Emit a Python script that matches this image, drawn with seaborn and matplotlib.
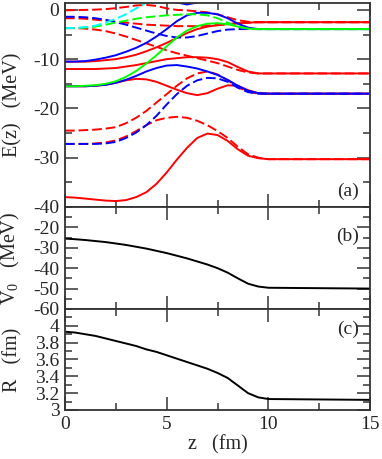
import matplotlib
matplotlib.use('Agg')
import matplotlib.pyplot as plt
import seaborn as sns
from matplotlib.ticker import MultipleLocator, FixedLocator, FixedFormatter

# z grid (fm) shared by all curves
z = [0, 0.5, 1, 1.5, 2, 2.5, 3, 3.5, 4, 4.5, 5, 5.5, 6, 6.5, 7, 7.5, 8, 8.5, 9, 9.5, 10, 15]
z_cyan = [0, 0.5, 1, 1.5, 2, 2.5, 3, 3.5, 4, 4.5, 5]
z_top = [5.0, 5.5, 6.0, 6.5, 7.0]

# panel (a): single particle levels E(z) in MeV
red_solid_1 = [-38.0, -38.1, -38.3, -38.5, -38.7, -38.8, -38.6, -38.0, -37.0, -35.3, -33.0, -30.4,
               -28.0, -26.0, -25.1, -25.4, -26.6, -28.3, -29.6, -30.1, -30.3, -30.3]
red_solid_2 = [-15.5, -15.5, -15.5, -15.4, -15.2, -14.8, -14.3, -14.0, -14.1, -14.6, -15.4, -16.2,
               -16.9, -17.3, -16.9, -16.0, -15.3, -15.4, -16.3, -16.9, -17.0, -17.0]
red_solid_3 = [-12.0, -12.0, -12.0, -12.0, -11.9, -11.8, -11.5, -11.2, -10.8, -10.4, -10.0, -9.8,
               -9.6, -9.6, -9.7, -10.0, -10.6, -11.6, -12.5, -12.9, -12.9, -12.9]
red_solid_4 = [-10.5, -10.5, -10.5, -10.4, -10.2, -10.0, -9.6, -9.1, -8.4, -7.6, -6.7, -5.7,
               -4.7, -3.9, -3.4, -3.1, -2.9, -2.7, -2.6, -2.5, -2.5, -2.5]
red_dash_1 = [-27.2, -27.2, -27.2, -27.1, -26.9, -26.5, -25.7, -24.6, -23.4, -22.4, -21.9, -21.7,
              -21.9, -22.5, -23.4, -24.6, -26.0, -27.8, -29.3, -30.0, -30.3, -30.3]
red_dash_2 = [-24.5, -24.5, -24.4, -24.3, -24.1, -23.8, -23.0, -21.9, -20.5, -18.8, -17.1, -15.4,
              -13.9, -12.9, -12.5, -13.1, -14.3, -15.7, -16.6, -17.0, -17.0, -17.0]
red_dash_3 = [-3.7, -3.7, -3.8, -4.0, -4.3, -4.8, -5.4, -6.1, -6.8, -7.5, -8.2, -8.8,
              -9.3, -9.8, -10.3, -10.8, -11.5, -12.2, -12.7, -12.9, -12.9, -12.9]
red_dash_4 = [-1.7, -1.7, -1.8, -2.0, -2.2, -2.4, -2.6, -2.8, -3.0, -3.1, -3.2, -3.3,
              -3.3, -3.3, -3.2, -3.1, -2.9, -2.7, -2.6, -2.5, -2.5, -2.5]
red_dash_5 = [-0.1, -0.05, 0.0, 0.05, 0.15, 0.35, 0.6, 0.9, 1.0, 0.8, 0.3, 0.0,
              -0.1, -0.3, -0.5, -0.9, -1.5, -2.1, -2.4, -2.5, -2.5, -2.5]
blue_dash_1 = [-27.2, -27.2, -27.2, -27.2, -27.1, -26.8, -26.0, -24.9, -23.4, -21.5, -19.2, -17.1,
               -15.4, -14.3, -13.8, -13.9, -14.6, -15.8, -16.7, -17.0, -17.0, -17.0]
blue_dash_2 = [-1.4, -1.4, -1.5, -1.7, -2.0, -2.5, -3.0, -3.6, -4.2, -4.8, -5.3, -5.6,
               -5.6, -5.3, -4.8, -4.3, -4.0, -3.9, -3.9, -3.9, -3.9, -3.9]
blue_solid_1 = [-15.5, -15.5, -15.5, -15.4, -15.2, -14.8, -14.2, -13.4, -12.5, -11.8, -11.3, -11.2,
                -11.5, -11.9, -12.5, -13.2, -14.2, -15.4, -16.4, -16.9, -17.0, -17.0]
blue_solid_2 = [-10.5, -10.5, -10.4, -10.1, -9.7, -9.2, -8.5, -7.7, -6.7, -5.4, -3.9, -2.3,
                -1.1, -0.6, -0.6, -0.9, -1.7, -2.8, -3.6, -3.9, -3.9, -3.9]
blue_solid_3 = [2.5, 1.5, 1.1, 1.5, 2.5]
green_dash = [-3.7, -3.7, -3.6, -3.4, -3.0, -2.6, -2.2, -1.8, -1.5, -1.3, -1.1, -1.0,
              -0.9, -0.9, -1.1, -1.7, -2.6, -3.4, -3.8, -3.9, -3.9, -3.9]
green_solid = [-15.5, -15.5, -15.4, -15.3, -15.0, -14.5, -13.6, -12.4, -10.9, -9.2, -7.4, -5.6,
               -4.2, -3.3, -2.8, -2.7, -2.9, -3.4, -3.8, -3.9, -3.9, -3.9]
cyan_dash = [-3.7, -3.7, -3.5, -3.2, -2.6, -1.8, -0.9, 0.3, 1.5, 3.0, 4.5]

# panel (b): potential depth V0 (MeV)
v0 = [-25.5, -25.8, -26.2, -26.7, -27.2, -27.9, -28.6, -29.5, -30.4, -31.5, -32.6, -33.9,
      -35.2, -36.7, -38.2, -40.0, -42.2, -45.0, -47.6, -49.0, -49.6, -50.0]

# panel (c): radius R (fm)
radius = [3.93, 3.92, 3.90, 3.88, 3.85, 3.82, 3.79, 3.76, 3.72, 3.69, 3.65, 3.61,
          3.57, 3.53, 3.49, 3.44, 3.38, 3.29, 3.20, 3.15, 3.13, 3.12]

RED, BLUE, GREEN, CYAN = '#ff0000', '#0000ff', '#00ff00', '#00ffff'
DASH = (0, (5, 2))

# (z, values, colour, dashed) in drawing order
levels = [
    (z, red_solid_1, RED, False), (z, red_solid_2, RED, False), (z, red_solid_3, RED, False),
    (z, red_solid_4, RED, False),
    (z, red_dash_1, RED, True), (z, red_dash_2, RED, True), (z, red_dash_3, RED, True),
    (z, red_dash_4, RED, True), (z, red_dash_5, RED, True),
    (z, blue_dash_1, BLUE, True), (z, blue_dash_2, BLUE, True),
    (z, blue_solid_1, BLUE, False), (z, blue_solid_2, BLUE, False),
    (z_top, blue_solid_3, BLUE, False),
    (z, green_dash, GREEN, True), (z, green_solid, GREEN, False),
    (z_cyan, cyan_dash, CYAN, True),
]

sns.set_style('ticks')
plt.rcParams['font.family'] = ['Liberation Serif', 'DejaVu Serif']
plt.rcParams['axes.unicode_minus'] = False
plt.rcParams['mathtext.fontset'] = 'custom'
plt.rcParams['mathtext.rm'] = 'Liberation Serif'

FS = 14
LFS = 14.5
fig, axes = plt.subplots(3, 1, figsize=(3.82, 4.59), dpi=100, sharex=True,
                         gridspec_kw={'height_ratios': [204, 102, 101], 'hspace': 0})
fig.subplots_adjust(left=0.170, right=0.969, top=0.9935, bottom=0.1068)
ax1, ax2, ax3 = axes

for zz, vals, col, dashed in levels:
    sns.lineplot(x=zz, y=vals, ax=ax1, color=col, lw=1.4, estimator=None, sort=False,
                 linestyle=DASH if dashed else '-')

sns.lineplot(x=z, y=v0, ax=ax2, color='black', lw=1.4, estimator=None, sort=False)
sns.lineplot(x=z, y=radius, ax=ax3, color='black', lw=1.4, estimator=None, sort=False)

ax1.set_ylim(-40, 1.4)
ax1.yaxis.set_major_locator(FixedLocator([-40, -30, -20, -10, 0]))
ax1.yaxis.set_minor_locator(MultipleLocator(5))

ax2.set_ylim(-60, -10)
ax2.yaxis.set_major_locator(FixedLocator([-60, -50, -40, -30, -20]))
ax2.yaxis.set_minor_locator(MultipleLocator(5))

ax3.set_ylim(3, 4.2)
r_ticks = [3, 3.2, 3.4, 3.6, 3.8, 4]
ax3.yaxis.set_major_locator(FixedLocator(r_ticks))
ax3.yaxis.set_major_formatter(FixedFormatter(['3', '3.2', '3.4', '3.6', '3.8', '4']))
ax3.yaxis.set_minor_locator(MultipleLocator(0.1))

ax3.set_xlim(0, 15)
ax3.xaxis.set_major_locator(MultipleLocator(5))
ax3.xaxis.set_minor_locator(MultipleLocator(2.5))

for ax in axes:
    ax.tick_params(which='both', direction='in', top=True, right=True, labelsize=FS,
                   width=1.1, color='#333333')
    ax.tick_params(axis='y', which='major', pad=4)
    ax.tick_params(axis='x', which='major', pad=4)
    ax.tick_params(which='major', length=9.5)
    ax.tick_params(which='minor', length=5)
    for sp in ax.spines.values():
        sp.set_linewidth(1.3)
        sp.set_color('#333333')

ax1.set_ylabel('E(z)   (MeV)', fontsize=LFS)
ax2.set_ylabel('V$_0$   (MeV)', fontsize=LFS)
ax3.set_ylabel('R   (fm)', fontsize=LFS)
for ax in axes:
    ax.yaxis.set_label_coords(-0.14, 0.5)
ax3.set_xlabel('z   (fm)', fontsize=LFS, labelpad=2)

ax1.text(0.962, 0.078, '(a)', transform=ax1.transAxes, ha='right', va='center', fontsize=FS)
ax2.text(0.962, 0.716, '(b)', transform=ax2.transAxes, ha='right', va='center', fontsize=FS)
ax3.text(0.962, 0.80, '(c)', transform=ax3.transAxes, ha='right', va='center', fontsize=FS)

fig.savefig('out.png', dpi=100)
